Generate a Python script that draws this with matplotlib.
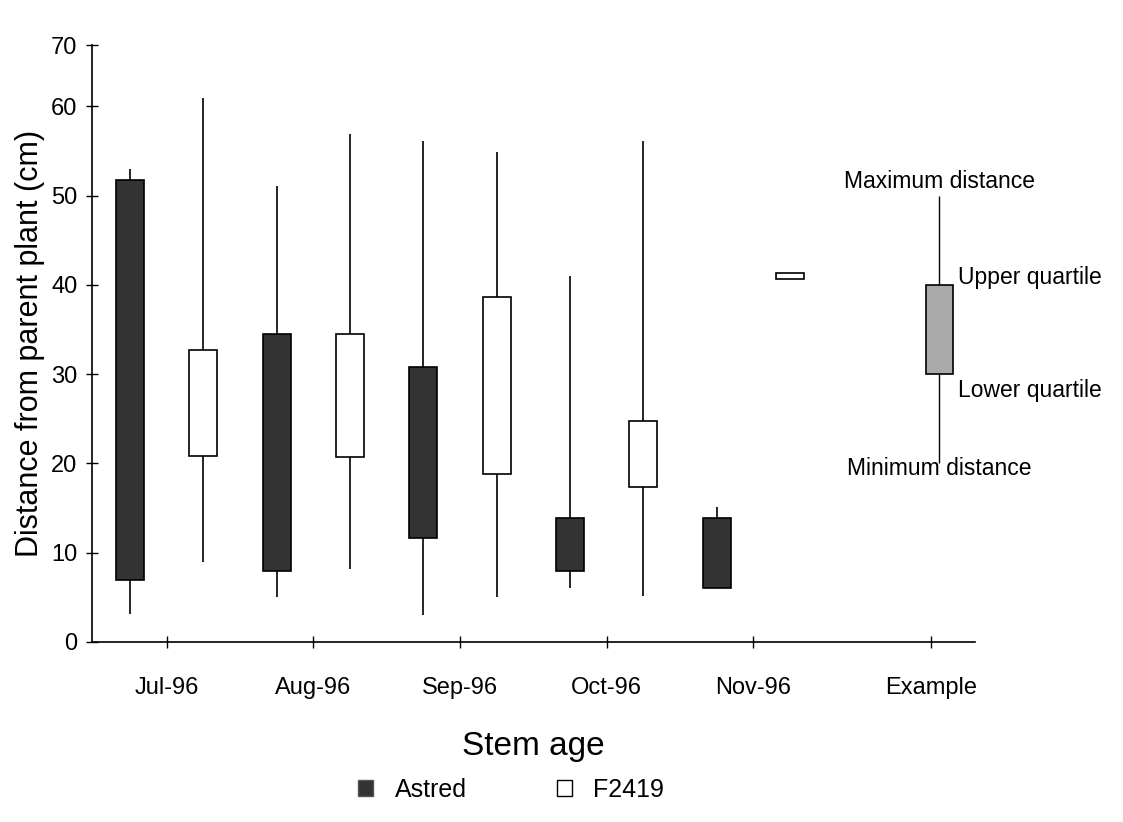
import matplotlib
matplotlib.use("Agg")
import matplotlib.pyplot as plt
from matplotlib.patches import Patch
import numpy as np

plt.rcParams['font.family'] = ['Liberation Sans', 'DejaVu Sans']

categories = ["Jul-96", "Aug-96", "Sep-96", "Oct-96", "Nov-96", "Example"]
cat_pos = [0, 1, 2, 3, 4, 5.21]

# Astred: min, lower quartile, upper quartile, max
astred_min = [3.1, 5.0, 3.0, 6.1, 6.0]
astred_q1 = [6.9, 7.9, 11.7, 8.0, 6.0]
astred_q3 = [51.8, 34.5, 30.8, 13.9, 13.9]
astred_max = [53.0, 51.1, 56.1, 41.0, 15.1]

# F2419
f_min = [9.0, 8.2, 5.0, 5.1, 41.0]
f_q1 = [20.8, 20.7, 18.8, 17.4, 40.7]
f_q3 = [32.7, 34.5, 38.6, 24.8, 41.3]
f_max = [60.9, 56.9, 54.9, 56.1, 41.0]

# Example box
ex_vals = [20, 30, 40, 50]
ex_labels = ["Minimum distance", "Lower quartile", "Upper quartile", "Maximum distance"]

ytick_vals = [0, 10, 20, 30, 40, 50, 60]

fig = plt.figure(figsize=(11.23, 8.22), dpi=100)
ax = fig.add_axes([0.0819, 0.219, 0.786, 0.726])

off = 0.25
w = 0.19
xa = np.array(cat_pos[:5]) - off
xf = np.array(cat_pos[:5]) + off

ax.vlines(xa, astred_min, astred_max, color='black', lw=1.2, zorder=1)
ax.bar(xa, np.array(astred_q3) - np.array(astred_q1), bottom=astred_q1, width=w,
       color='#333333', edgecolor='black', lw=1.2, zorder=2)
ax.vlines(xf, f_min, f_max, color='black', lw=1.2, zorder=1)
ax.bar(xf, np.array(f_q3) - np.array(f_q1), bottom=f_q1, width=w,
       color='white', edgecolor='black', lw=1.2, zorder=2)

ex_x = cat_pos[5] + 0.06
ax.vlines([ex_x], ex_vals[0], ex_vals[3], color='black', lw=1.0, zorder=1)
ax.bar([ex_x], [ex_vals[2] - ex_vals[1]], bottom=[ex_vals[1]], width=w,
       color='#aaaaaa', edgecolor='black', lw=1.2, zorder=2)

fs_ann = 16.5
ax.text(ex_x, ex_vals[3] + 1.6, ex_labels[3], ha='center', va='center', fontsize=fs_ann)
ax.text(ex_x + 0.125, ex_vals[2] + 0.8, ex_labels[2], ha='left', va='center', fontsize=fs_ann)
ax.text(ex_x + 0.125, ex_vals[1] - 1.8, ex_labels[1], ha='left', va='center', fontsize=fs_ann)
ax.text(ex_x, ex_vals[0] - 0.6, ex_labels[0], ha='center', va='center', fontsize=fs_ann)

ax.set_xlim(-0.51, 5.51)
ytop = 66.85
ax.set_ylim(0, ytop)
ax.set_yticks(ytick_vals + [ytop])
ax.set_yticklabels([str(v) for v in ytick_vals] + ["70"], fontsize=17)
ax.set_xticks(cat_pos)
ax.set_xticklabels(categories, fontsize=17)
ax.tick_params(axis='both', direction='inout', length=9, width=1.0, color='black')
ax.tick_params(axis='x', pad=21)
ax.tick_params(axis='y', pad=6)
for s in ['top', 'right']:
    ax.spines[s].set_visible(False)
for s in ['left', 'bottom']:
    ax.spines[s].set_linewidth(1.2)

ax.set_ylabel("Distance from parent plant (cm)", fontsize=22, labelpad=4)
ax.set_xlabel("Stem age", fontsize=24, labelpad=23)

handles = [Patch(facecolor='#333333', edgecolor='#555555', label='Astred'),
           Patch(facecolor='white', edgecolor='black', label='F2419')]
fig.legend(handles=handles, loc='center', bbox_to_anchor=(0.455, 0.039), ncol=2,
           frameon=False, fontsize=18, columnspacing=3.6, handlelength=0.6,
           handleheight=0.6, handletextpad=0.85)

fig.savefig("out.png", dpi=100)
